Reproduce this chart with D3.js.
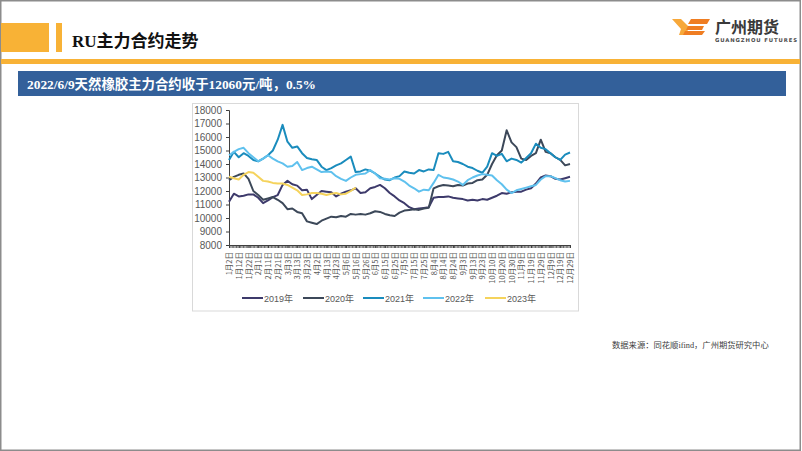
<!DOCTYPE html>
<html><head><meta charset="utf-8">
<script src="https://cdn.jsdelivr.net/npm/d3@7"></script>
<style>
html,body{margin:0;padding:0;background:#fff;}
svg{display:block;}
</style></head>
<body>
<svg id="c" width="802" height="451"></svg>
<script>
// ---------- data ----------
const xLabels = ["1月2日","1月12日","1月22日","2月1日","2月11日","2月21日","3月3日","3月13日","3月23日","4月2日","4月13日","4月23日","5月6日","5月16日","5月26日","6月5日","6月15日","6月25日","7月5日","7月15日","7月25日","8月4日","8月14日","8月24日","9月3日","9月13日","9月23日","10月10日","10月20日","10月30日","11月9日","11月19日","11月29日","12月9日","12月19日","12月29日"];
const yTicks = [8000,9000,10000,11000,12000,13000,14000,15000,16000,17000,18000];
const seriesNames = ["2019年","2020年","2021年","2022年","2023年"];
const seriesColors = ["#3d3a6b","#3c4859","#1a8cbd","#5fc1ee","#f5d35c"];

const s2019 = [11200,11800,11600,11650,11750,11750,11500,11100,11300,11550,11700,12450,12750,12500,12400,12050,12100,11400,11700,12000,11950,11900,11600,11800,11950,12050,12200,11850,11900,12200,12300,12450,12200,11850,11600,11300,11100,10800,10650,10700,10750,10800,11500,11550,11550,11600,11500,11450,11400,11300,11350,11300,11400,11350,11500,11650,11850,11800,11900,11950,11950,12100,12200,12550,13000,13150,13100,12900,12850,12950,13050];
const s2020 = [12800,13050,13200,13300,12900,12000,11700,11350,11450,11550,11350,11100,10650,10700,10450,10350,9750,9650,9550,9800,9950,10100,10050,10150,10100,10300,10250,10300,10250,10350,10500,10450,10300,10200,10150,10400,10550,10600,10650,10600,10700,10750,12200,12350,12450,12400,12350,12450,12400,12550,12600,12800,12850,13200,14000,14650,15000,16500,15600,15250,14400,14300,14600,14800,15800,14900,14800,14500,14300,13900,14000];
const s2021 = [14300,14900,14500,14800,14600,14300,14200,14400,14650,15000,15800,16900,15650,15200,15300,14800,14450,14350,14300,13800,13550,13700,13900,14050,14300,14550,13400,13450,13600,13500,13300,13050,12850,12800,13000,13100,13450,13350,13300,13550,13450,13600,13550,14800,14750,14900,14200,14150,14000,13800,13700,13500,13350,13800,14800,14600,14750,14200,14400,14300,14100,14450,14800,15500,15200,15100,14800,14500,14300,14700,14850];
const s2022 = [14650,14900,15100,15200,14800,14500,14200,14400,14650,14400,14200,14050,13800,13850,14150,13550,13700,13800,13600,13400,13450,13400,13100,12900,12750,13000,13200,13250,13300,13550,13300,12950,12900,12850,12950,12900,12700,12400,12200,11950,12100,12050,12600,13200,13000,12950,12850,12700,12450,12800,13000,13150,13250,13200,13150,12800,12500,12100,11850,12050,12150,12250,12350,12450,12850,13100,13100,12950,12800,12700,12750];
const s2023 = [13050,12950,12850,13200,13400,13350,13050,12750,12700,12600,12550,12550,12450,12250,12050,11700,11750,11850,11850,11800,11700,11800,11850,11750,11800,12000,12250];
const allSeries = [s2019,s2020,s2021,s2022,s2023];

// ---------- page ----------
const svg = d3.select("#c");
// frame
svg.append("rect").attr("x",0.75).attr("y",0.75).attr("width",799.5).attr("height",449.5)
  .attr("fill","none").attr("stroke","#8c8c8c").attr("stroke-width",1.5);
// title blocks
svg.append("rect").attr("x",1).attr("y",23).attr("width",48).attr("height",29).attr("fill","#f8b236");
svg.append("rect").attr("x",56).attr("y",23).attr("width",6).attr("height",29).attr("fill","#f8b236");
svg.append("text").attr("x",72).attr("y",47).text("RU主力合约走势")
  .style("font-family","'Liberation Serif','Noto Sans CJK SC',serif").style("font-weight","bold")
  .style("font-size","17px").attr("fill","#111");
svg.append("rect").attr("x",1).attr("y",59).attr("width",799).attr("height",5).attr("fill","#f8b236");

// logo
const lg = svg.append("g");
lg.append("path").attr("d","M672,19 L681,19 L689,27 L686,35 L679,35 L681,29 Z").attr("fill","#f7a83a");
lg.append("path").attr("d","M691,19 L710,19 L707,24 L688,24 Z").attr("fill","#ef7d22");
lg.append("path").attr("d","M688,26 L704,26 L702,30 L686,30 Z").attr("fill","#ef7d22");
lg.append("path").attr("d","M685,31 L705,31 L702,35 L683,35 Z").attr("fill","#ef7d22");
svg.append("text").attr("x",715).attr("y",33).text("广州期货")
  .style("font-family","'Noto Sans CJK SC',sans-serif").style("font-weight","bold")
  .style("font-size","16px").attr("fill","#3a3a3a");
svg.append("text").attr("x",715).attr("y",41.5).text("GUANGZHOU FUTURES")
  .style("font-family","'DejaVu Sans',sans-serif").style("font-weight","bold")
  .style("font-size","5.3px").style("letter-spacing","0.9px").attr("fill","#4a4a4a");

// header bar
svg.append("rect").attr("x",18).attr("y",71).attr("width",768).attr("height",25).attr("fill","#33609a");
svg.append("text").attr("x",27).attr("y",89).text("2022/6/9天然橡胶主力合约收于12060元/吨，0.5%")
  .style("font-family","'Liberation Serif','Noto Sans CJK SC',serif").style("font-weight","bold")
  .style("font-size","13.4px").attr("fill","#fff");

// chart frame
svg.append("rect").attr("x",192.5).attr("y",103.5).attr("width",386).attr("height",207.5)
  .attr("fill","#fff").attr("stroke","#d9d9d9").attr("stroke-width",1);

// scales
const x = d3.scaleLinear().domain([0,70]).range([229,570]);
const y = d3.scaleLinear().domain([8000,18000]).range([245,110]);

// y axis
const ya = svg.append("g").attr("transform","translate(229,0)")
  .call(d3.axisLeft(y).tickValues(yTicks).tickSize(3).tickPadding(4).tickFormat(d3.format("d")));
ya.select(".domain").attr("stroke","#404040");
ya.selectAll(".tick line").attr("stroke","#404040");
ya.selectAll("text").style("font-family","'Liberation Sans',Arial,sans-serif").style("font-size","10px").attr("fill","#595959");

// x axis minor ticks
const minor = d3.range(245).map(i => i*70/244);
const xm = svg.append("g").attr("transform","translate(0,245)")
  .call(d3.axisBottom(x).tickValues(minor).tickSize(3).tickFormat(""));
xm.select(".domain").attr("stroke","#404040");
xm.selectAll(".tick line").attr("stroke","#404040").attr("stroke-width",0.8);
// x axis labels
const xa = svg.append("g").attr("transform","translate(0,245)")
  .call(d3.axisBottom(x).tickValues(d3.range(0,71,2)).tickSize(3).tickFormat(d => xLabels[d/2]));
xa.select(".domain").remove();
xa.selectAll(".tick line").attr("stroke","#404040");
xa.selectAll("text").attr("transform","rotate(-90)").attr("x",-7).attr("y",0).attr("dy","0.35em")
  .style("text-anchor","end").style("font-family","'Noto Sans CJK SC',sans-serif").style("font-size","7.5px").attr("fill","#595959");

// lines
const line = d3.line().x((d,i)=>x(i)).y(d=>y(d)).curve(d3.curveLinear);
allSeries.forEach((s,k)=>{
  svg.append("path").datum(s).attr("d",line).attr("fill","none")
    .attr("stroke",seriesColors[k]).attr("stroke-width",2).attr("stroke-linejoin","round");
});

// legend
const legX = [242,303,363,423,485];
seriesNames.forEach((n,k)=>{
  svg.append("line").attr("x1",legX[k]).attr("x2",legX[k]+21).attr("y1",298).attr("y2",298)
    .attr("stroke",seriesColors[k]).attr("stroke-width",2);
  svg.append("text").attr("x",legX[k]+22).attr("y",301.5).text(n)
    .style("font-family","'Liberation Sans','Noto Sans CJK SC',sans-serif").style("font-size","9px").attr("fill","#595959");
});

// source
svg.append("text").attr("x",612).attr("y",348).text("数据来源：同花顺ifind，广州期货研究中心")
  .style("font-family","'Liberation Serif','Noto Sans CJK SC',serif").style("font-size","8.3px").attr("fill","#404040");
</script>
</body></html>
